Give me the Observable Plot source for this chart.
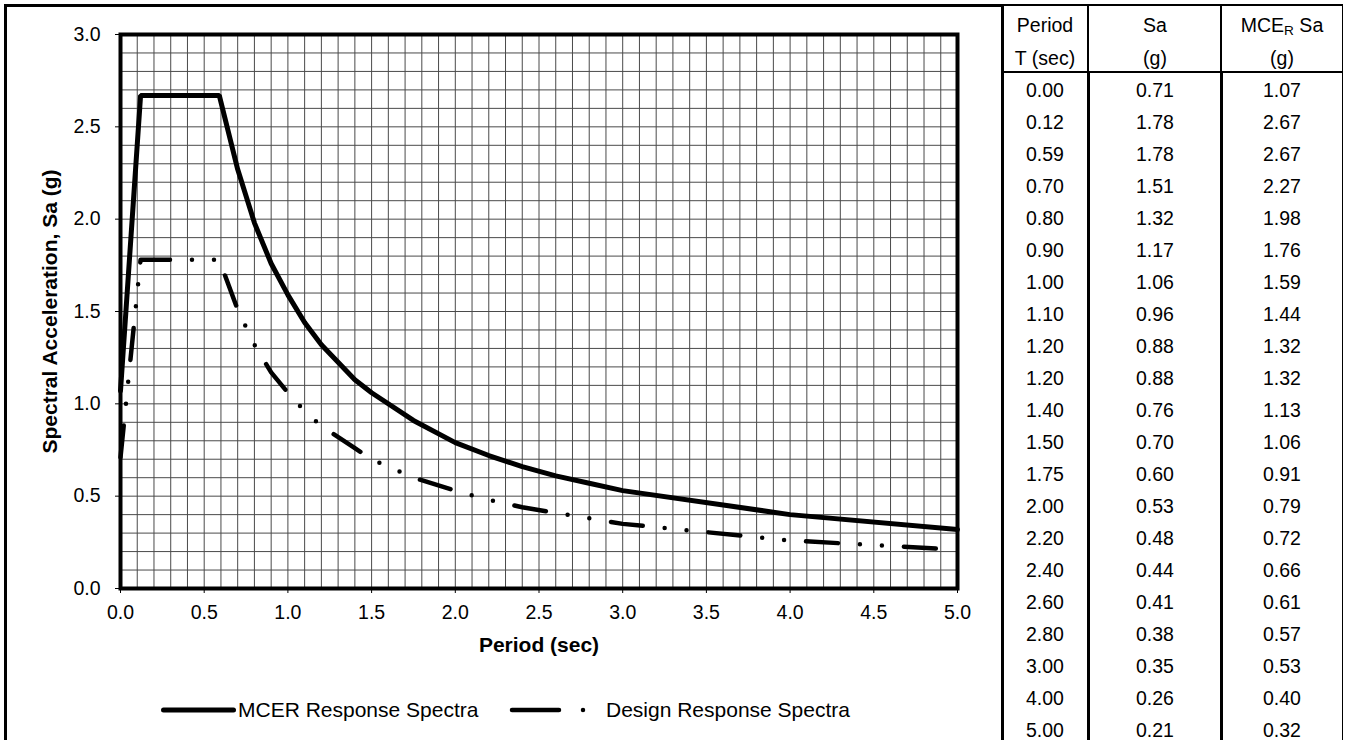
<!DOCTYPE html>
<html>
<head>
<meta charset="utf-8">
<script src="https://cdn.jsdelivr.net/npm/d3@7"></script>
<script src="https://cdn.jsdelivr.net/npm/@observablehq/plot@0.6"></script>
<style>
  html, body { margin: 0; padding: 0; background: #fff; }
  #root { position: relative; width: 1346px; height: 740px; overflow: hidden; font-family: "Liberation Sans", Arial, sans-serif; color: #000; }
  #frame { position: absolute; left: 4px; top: 4px; width: 1000px; height: 760px; border-left: 3px solid #000; border-top: 3px solid #000; box-sizing: border-box; }
  #chart { position: absolute; left: 0; top: 0; }
  #legend { position: absolute; left: 0; top: 0; width: 1002px; height: 740px; pointer-events: none; }
  .leg { position: absolute; display: flex; align-items: center; font-size: 21px; white-space: nowrap; }
  #tbl { position: absolute; left: 0; top: 0; width: 1346px; height: 740px; font-size: 19.5px; }
  .ln { position: absolute; background: #000; }
  .cell { position: absolute; text-align: center; height: 32px; line-height: 32px; white-space: nowrap; }
  sub { font-size: 0.7em; vertical-align: -0.25em; line-height: 0; }
</style>
</head>
<body>
<div id="root">
  <div id="frame"></div>
  <div id="chart"></div>
  <div id="legend"></div>
  <div id="tbl"></div>
</div>
<script>
// ---- data ----
const periods   = [0.00, 0.12, 0.59, 0.70, 0.80, 0.90, 1.00, 1.10, 1.20, 1.20, 1.40, 1.50, 1.75, 2.00, 2.20, 2.40, 2.60, 2.80, 3.00, 4.00, 5.00];
const saDesign  = [0.71, 1.78, 1.78, 1.51, 1.32, 1.17, 1.06, 0.96, 0.88, 0.88, 0.76, 0.70, 0.60, 0.53, 0.48, 0.44, 0.41, 0.38, 0.35, 0.26, 0.21];
const saMCER    = [1.07, 2.67, 2.67, 2.27, 1.98, 1.76, 1.59, 1.44, 1.32, 1.32, 1.13, 1.06, 0.91, 0.79, 0.72, 0.66, 0.61, 0.57, 0.53, 0.40, 0.32];
const xTicks    = [0.0, 0.5, 1.0, 1.5, 2.0, 2.5, 3.0, 3.5, 4.0, 4.5, 5.0];
const yTicks    = [0.0, 0.5, 1.0, 1.5, 2.0, 2.5, 3.0];
const seriesNames = ["MCER Response Spectra", "Design Response Spectra"];
const xTitle = "Period (sec)";
const yTitle = "Spectral Acceleration, Sa (g)";
const headers = [["Period", "T (sec)"], ["Sa", "(g)"], ["MCE<sub>R</sub> Sa", "(g)"]];

const data = periods.map((t, i) => ({t, sa: saDesign[i], mce: saMCER[i]}));
const xGrid = d3.ticks(0, 5, 50);
const yGrid = d3.ticks(0, 3, 30);
const designDash = "32,22,0,22,0,22";

const chart = Plot.plot({
  width: 1002,
  height: 740,
  marginLeft: 120,
  marginRight: 45,
  marginTop: 34,
  marginBottom: 152,
  x: {domain: [0, 5]},
  y: {domain: [0, 3]},
  style: {fontFamily: "'Liberation Sans', Arial, sans-serif", fontSize: "19.5px", color: "#000", background: "transparent", overflow: "visible"},
  marks: [
    Plot.gridX(xGrid, {stroke: "#4a4a4a", strokeOpacity: 1, strokeWidth: 1}),
    Plot.gridY(yGrid, {stroke: "#4a4a4a", strokeOpacity: 1, strokeWidth: 1}),
    Plot.axisX(xTicks, {tickFormat: d3.format(".1f"), tickSize: 5, tickPadding: 12, label: null, stroke: "#000"}),
    Plot.axisY(yTicks, {tickFormat: d3.format(".1f"), tickSize: 5, tickPadding: 15, label: null, stroke: "#000"}),
    Plot.line(data, {x: "t", y: "mce", stroke: "#000", strokeWidth: 5, strokeLinejoin: "miter"}),
    Plot.line(data, {x: "t", y: "sa", stroke: "#000", strokeWidth: 4.5, strokeDasharray: designDash, strokeLinecap: "round"}),
    Plot.frame({stroke: "#000", strokeWidth: 4}),
    Plot.text([xTitle], {frameAnchor: "bottom", dy: 57, lineAnchor: "middle", fontWeight: "bold", fontSize: 21}),
    Plot.text([yTitle], {frameAnchor: "left", rotate: -90, dx: -70, textAnchor: "middle", lineAnchor: "middle", fontWeight: "bold", fontSize: 21})
  ]
});
document.getElementById("chart").appendChild(chart);

// ---- legend ----
const legend = document.getElementById("legend");
const legItems = [
  {name: seriesNames[0], left: 161, sw: 75, x1: 2.5, x2: 72.5, dash: null, width: 5, gap: 2},
  {name: seriesNames[1], left: 508, sw: 80, x1: 4, x2: 78, dash: "47,24,0,200", width: 4.5, gap: 18}
];
const ns = "http://www.w3.org/2000/svg";
legItems.forEach(it => {
  const div = document.createElement("div");
  div.className = "leg";
  div.style.left = it.left + "px";
  div.style.top = "697px";
  div.style.height = "26px";
  const svg = document.createElementNS(ns, "svg");
  svg.setAttribute("width", it.sw);
  svg.setAttribute("height", 26);
  const ln = document.createElementNS(ns, "line");
  ln.setAttribute("x1", it.x1);
  ln.setAttribute("x2", it.x2);
  ln.setAttribute("y1", 13);
  ln.setAttribute("y2", 13);
  ln.setAttribute("stroke", "#000");
  ln.setAttribute("stroke-width", it.width);
  ln.setAttribute("stroke-linecap", "round");
  if (it.dash) ln.setAttribute("stroke-dasharray", it.dash);
  svg.appendChild(ln);
  div.appendChild(svg);
  const span = document.createElement("span");
  span.textContent = it.name;
  span.style.marginLeft = it.gap + "px";
  div.appendChild(span);
  legend.appendChild(div);
});

// ---- table ----
const f2 = d3.format(".2f");
const tbl = document.getElementById("tbl");
const colEdges = [1001, 1087, 1220, 1342];
const colCenters = [1045, 1155, 1282];
const rowH = 32, rowTop0 = 74, headTop = 4, sepY = 71;
function line(l, t, w, h) {
  const d = document.createElement("div");
  d.className = "ln";
  Object.assign(d.style, {left: l + "px", top: t + "px", width: w + "px", height: h + "px"});
  tbl.appendChild(d);
}
function cell(cx, cy, html) {
  const d = document.createElement("div");
  d.className = "cell";
  d.style.left = (cx - 60) + "px";
  d.style.width = "120px";
  d.style.top = (cy - 16) + "px";
  d.innerHTML = html;
  tbl.appendChild(d);
}
// borders
line(colEdges[0], headTop, colEdges[3] - colEdges[0] + 1, 2);   // top
line(colEdges[0], sepY, colEdges[3] - colEdges[0] + 1, 2);      // header separator
line(colEdges[0], headTop, 3, 740);                             // left
line(colEdges[1], headTop, 2, sepY - headTop);                  // header inner
line(colEdges[2], headTop, 2, sepY - headTop);
line(colEdges[1], sepY, 3, 740);                                // body inner
line(colEdges[2], sepY, 3, 740);
line(colEdges[3], headTop, 1, 740);                             // right
// header text
headers.forEach((h, c) => {
  cell(colCenters[c], 24.5, h[0]);
  cell(colCenters[c], 57.5, h[1]);
});
// body text
periods.forEach((t, i) => {
  const cy = rowTop0 + rowH * i + rowH / 2;
  cell(colCenters[0], cy, f2(t));
  cell(colCenters[1], cy, f2(saDesign[i]));
  cell(colCenters[2], cy, f2(saMCER[i]));
});
</script>
</body>
</html>
